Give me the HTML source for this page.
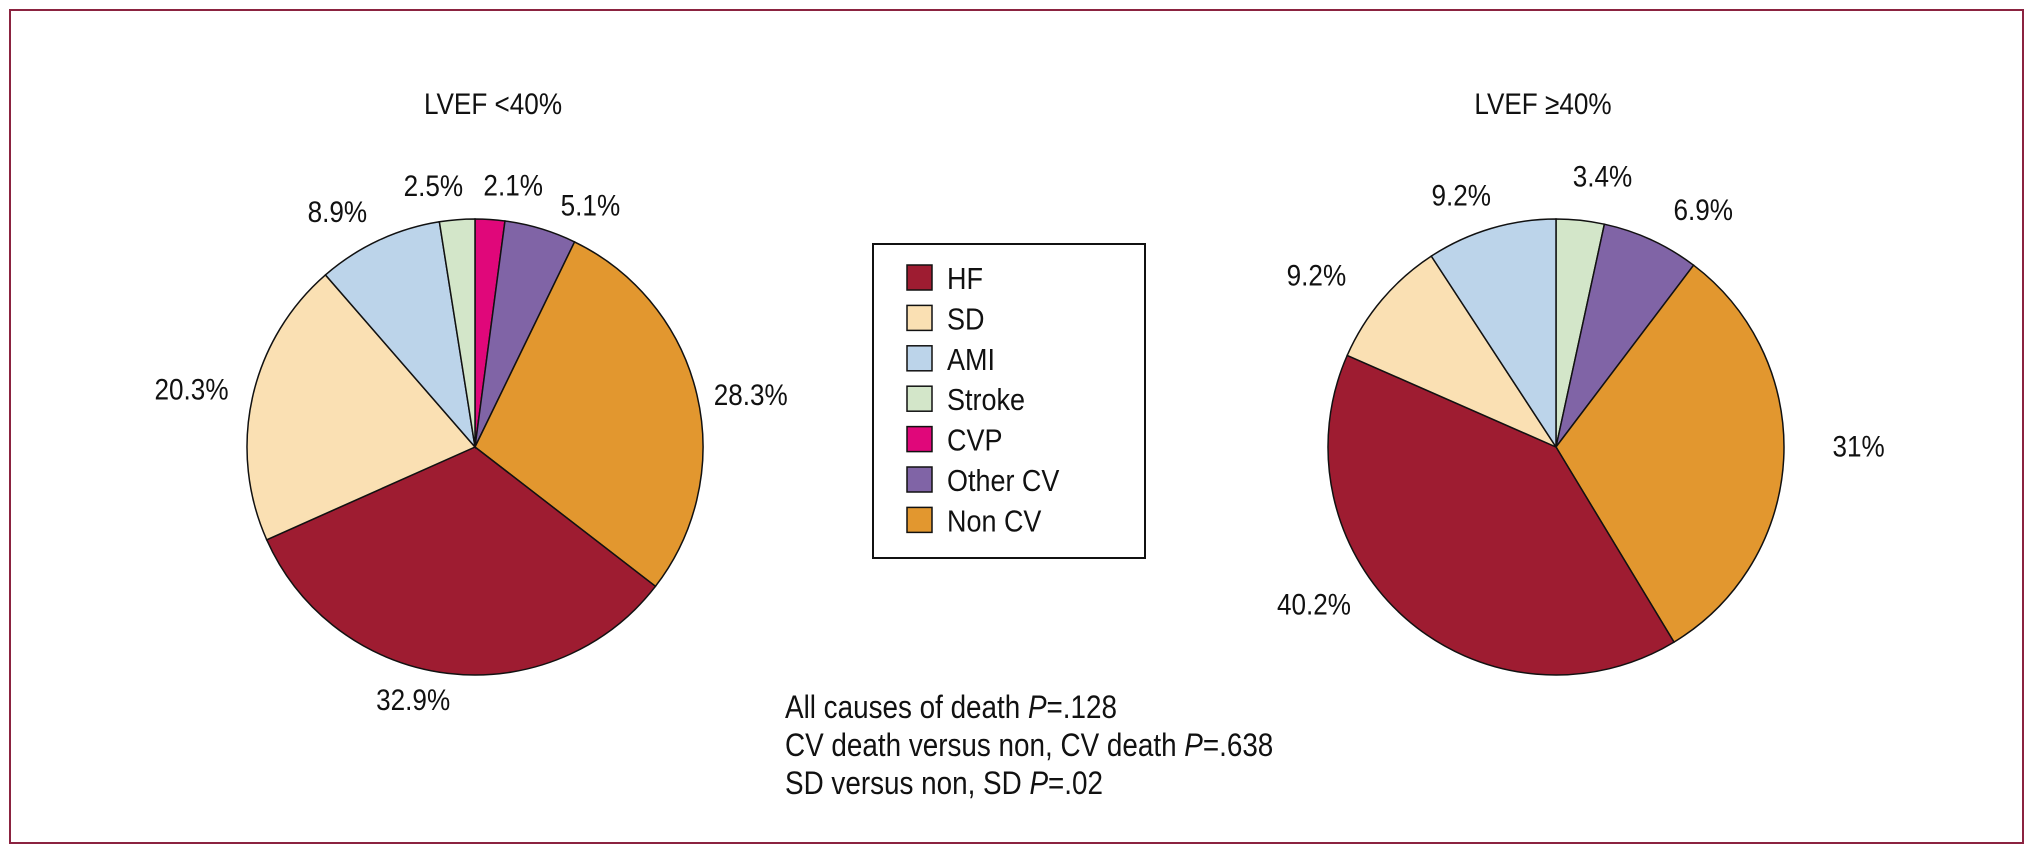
<!DOCTYPE html>
<html><head><meta charset="utf-8"><style>
html,body{margin:0;padding:0;background:#fff;}
svg{display:block;}
text{font-family:"Liberation Sans","Liberation Sans Narrow",sans-serif;fill:#111;}
</style></head><body>
<svg id="chart" width="2033" height="854" viewBox="0 0 2033 854">
<rect x="10" y="10" width="2013" height="833" fill="#fff" stroke="#8b2340" stroke-width="2"/>
<text class="cond" x="493" y="114" font-size="30" text-anchor="middle">LVEF &lt;40%</text>
<text class="cond" x="1543" y="114" font-size="30" text-anchor="middle">LVEF ≥40%</text>
<g>
<rect x="873" y="244" width="272" height="314" fill="#fff" stroke="#111" stroke-width="2"/>
<g id="legend-items"></g>
</g>
<g id="pies"></g>
<g>
<text class="cond" x="785" y="718" font-size="32">All causes of death <tspan font-style="italic">P</tspan>=.128</text>
<text class="cond" x="785" y="756" font-size="32">CV death versus non, CV death <tspan font-style="italic">P</tspan>=.638</text>
<text class="cond" x="785" y="794" font-size="32">SD versus non, SD <tspan font-style="italic">P</tspan>=.02</text>
</g>
</svg>
<script>
const categories = ["HF","SD","AMI","Stroke","CVP","Other CV","Non CV"];
const colors = {"HF":"#9e1c31","SD":"#fae0b3","AMI":"#bcd4ea","Stroke":"#d3e6c9","CVP":"#e0077a","Other CV":"#8064a6","Non CV":"#e2972f"};
// clockwise order from 12 o'clock, as drawn
const leftOrder = ["CVP","Other CV","Non CV","HF","SD","AMI","Stroke"];
const leftValues = [2.1,5.1,28.3,32.9,20.3,8.9,2.5];
const leftLabels = ["2.1%","5.1%","28.3%","32.9%","20.3%","8.9%","2.5%"];
const rightOrder = ["Stroke","Other CV","Non CV","HF","SD","AMI"];
const rightValues = [3.4,6.9,31,40.2,9.2,9.2];
const rightLabels = ["3.4%","6.9%","31%","40.2%","9.2%","9.2%"];
// label placement nudges (layout, px)
const leftNudge = [[20,13],[36,22],[7,10],[-29,-22],[-14,1],[-21,14],[-20,13]];
const rightNudge = [[17,3],[32,13],[27,-16],[-60,-51],[-29,6],[-16,12]];

const NS = "http://www.w3.org/2000/svg";
const legendG = document.getElementById('legend-items');
categories.forEach((c,i)=>{
  const y = 265 + i*40.4;
  const r = document.createElementNS(NS,'rect');
  r.setAttribute('x',907); r.setAttribute('y',y); r.setAttribute('width',25); r.setAttribute('height',25);
  r.setAttribute('fill',colors[c]); r.setAttribute('stroke','#111'); r.setAttribute('stroke-width','1.5');
  
  
  legendG.appendChild(r);
  const t = document.createElementNS(NS,'text');
  t.setAttribute('x',947); t.setAttribute('y',y+24); t.setAttribute('font-size','31');
  t.setAttribute('class','cond');
  t.textContent = c;
  
  
  legendG.appendChild(t);
});

function drawPie(cx,cy,R,order,values,labels,nudge,prefix){
  const g = document.createElementNS(NS,'g');
  
  
  document.getElementById('pies').appendChild(g);
  const total = values.reduce((a,b)=>a+b,0);
  let acc = 0;
  const pt=(frac,r)=>{const a=frac*2*Math.PI;return [cx+r*Math.sin(a),cy-r*Math.cos(a)];};
  values.forEach((v,i)=>{
    const f0=acc/total, f1=(acc+v)/total; acc+=v;
    const p0=pt(f0,R), p1=pt(f1,R);
    const large=(f1-f0)>0.5?1:0;
    const p=document.createElementNS(NS,'path');
    p.setAttribute('d',`M${cx},${cy} L${p0[0]},${p0[1]} A${R},${R} 0 ${large} 1 ${p1[0]},${p1[1]} Z`);
    p.setAttribute('fill',colors[order[i]]); p.setAttribute('stroke','#111'); p.setAttribute('stroke-width','1.5');
    
    
    g.appendChild(p);
    const fm=(f0+f1)/2;
    const lp=pt(fm,R+48);
    const n=nudge[i]||[0,0];
    const t=document.createElementNS(NS,'text');
    t.setAttribute('x',lp[0]+n[0]); t.setAttribute('y',lp[1]+11+n[1]);
    t.setAttribute('font-size','30'); t.setAttribute('text-anchor','middle');
    t.setAttribute('class','cond');
    t.textContent=labels[i];
    
    
    g.appendChild(t);
  });
}
drawPie(475,447,228,leftOrder,leftValues,leftLabels,leftNudge,'left');
drawPie(1556,447,228,rightOrder,rightValues,rightLabels,rightNudge,'right');

// condense text to mimic the narrow typeface in the reference
document.querySelectorAll('text.cond').forEach(t=>{
  const w=t.getComputedTextLength();
  t.setAttribute('textLength',(w*0.87).toFixed(1));
  t.setAttribute('lengthAdjust','spacingAndGlyphs');
});
</script>
</body></html>
